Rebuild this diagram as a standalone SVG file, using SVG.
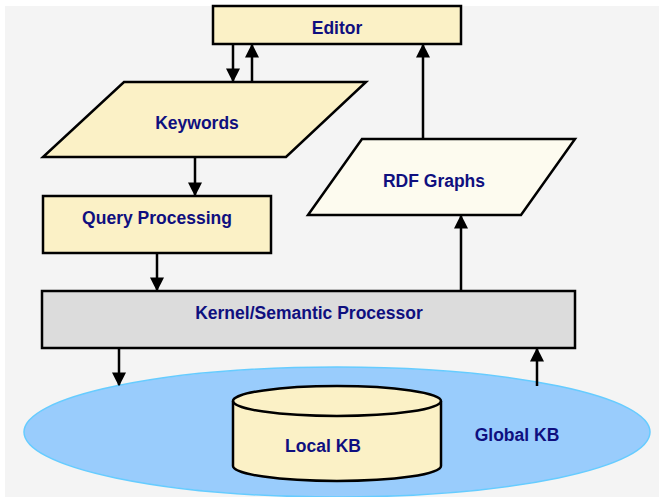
<svg xmlns="http://www.w3.org/2000/svg" width="659" height="497" viewBox="0 0 659 497">
<defs>
<style>
.lbl{font-family:"Liberation Sans",Arial,sans-serif;font-weight:bold;font-size:17.5px;fill:#0f0f7f;text-anchor:middle}
.box{stroke:#000;stroke-width:2.5}
.yel{fill:#fbf1c6}
.con{stroke:#000;stroke-width:2.5;fill:none;marker-end:url(#ah)}
</style>
<marker id="ah" viewBox="0 0 10 10" refX="9" refY="5" markerWidth="5.6" markerHeight="5.6" markerUnits="strokeWidth" orient="auto">
<path d="M0,0 L10,5 L0,10 Z" fill="#000"/>
</marker>
</defs>
<rect x="0" y="0" width="659" height="497" fill="#fff"/>
<rect x="5" y="6" width="654" height="491" fill="#f4f4f4"/>
<g id="global-kb">
<ellipse cx="337" cy="432" rx="313" ry="65" fill="#99ccfc" stroke="#66ccff" stroke-width="1.5"/>
<text class="lbl" x="517" y="441">Global KB</text>
</g>
<g id="local-kb">
<path class="box yel" d="M233,401 L233,466 A104,15 0 0 0 441,466 L441,401 A104,15 0 0 0 233,401 Z"/>
<path class="box" fill="none" d="M233,401 A104,15 0 0 0 441,401"/>
<text class="lbl" x="323" y="452">Local KB</text>
</g>
<g id="editor">
<rect class="box yel" x="213" y="6" width="248" height="38"/>
<text class="lbl" x="337" y="34">Editor</text>
</g>
<g id="keywords">
<polygon class="box yel" points="124,82 366,82 286,157 43,157"/>
<text class="lbl" x="197" y="129">Keywords</text>
</g>
<g id="query-processing">
<rect class="box yel" x="43" y="196" width="228" height="57"/>
<text class="lbl" x="157" y="224">Query Processing</text>
</g>
<g id="rdf-graphs">
<polygon class="box" fill="#fdfbef" points="362,139 575,139 521,215 308,215"/>
<text class="lbl" x="434" y="187">RDF Graphs</text>
</g>
<g id="kernel">
<rect class="box" fill="#dcdcdc" x="42" y="291" width="533" height="57"/>
<text class="lbl" x="309" y="319">Kernel/Semantic Processor</text>
</g>
<g id="connectors">
<line class="con" x1="233" y1="44" x2="233" y2="81"/>
<line class="con" x1="252" y1="82" x2="252" y2="45"/>
<line class="con" x1="195" y1="157" x2="195" y2="195"/>
<line class="con" x1="157" y1="253" x2="157" y2="290"/>
<line class="con" x1="461" y1="291" x2="461" y2="216"/>
<line class="con" x1="423" y1="139" x2="423" y2="45"/>
<line class="con" x1="119" y1="348" x2="119" y2="385"/>
<line class="con" x1="537" y1="386" x2="537" y2="349"/>
</g>
</svg>
